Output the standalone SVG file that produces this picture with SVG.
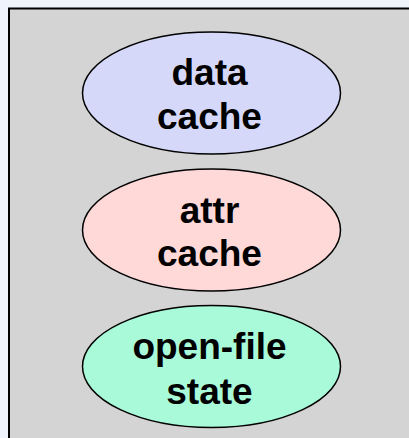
<svg xmlns="http://www.w3.org/2000/svg" width="409" height="438" viewBox="0 0 409 438">
  <style>
    .bg { fill: #eff3fc; }
    .panel { fill: #d4d4d4; stroke: #000; stroke-width: 2; }
    .node ellipse { stroke: #000; stroke-width: 1.5; }
    .node text { font-family: "Liberation Sans", Arial, sans-serif; font-weight: bold; font-size: 37px; fill: #000; text-anchor: middle; }
  </style>
  <rect class="bg" x="0" y="0" width="409" height="438"/>
  <rect class="panel" x="9" y="8.5" width="430" height="460"/>
  <g id="connectors"></g>
  <g id="data-cache" class="node">
    <ellipse cx="211.5" cy="93" rx="129" ry="61" fill="#d6d8fa"/>
    <text x="209.5" y="84.5">data</text>
    <text x="209.5" y="129">cache</text>
  </g>
  <g id="attr-cache" class="node">
    <ellipse cx="211.5" cy="230" rx="129" ry="61" fill="#ffd8d8"/>
    <text x="209.5" y="222.5">attr</text>
    <text x="209.5" y="265.5">cache</text>
  </g>
  <g id="open-file-state" class="node">
    <ellipse cx="211.5" cy="366.5" rx="129" ry="61" fill="#a8fad8"/>
    <text x="209.5" y="358.5">open-file</text>
    <text x="209.5" y="404">state</text>
  </g>
</svg>
